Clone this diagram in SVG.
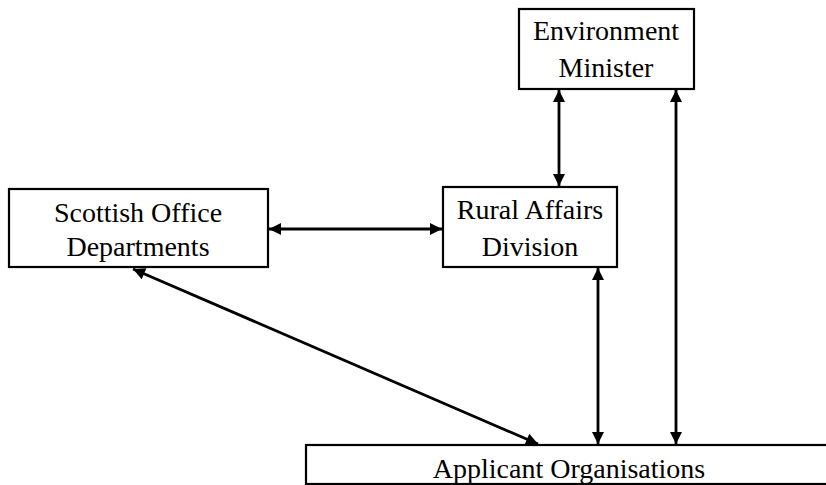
<svg xmlns="http://www.w3.org/2000/svg" width="826" height="485" viewBox="0 0 826 485">
<style>
.box{fill:#fff;stroke:#000;stroke-width:2.2}
.t{font-family:'Liberation Serif','Times New Roman',Times,serif;font-size:28px;fill:#000;text-anchor:middle}
.c{stroke:#000;stroke-width:2.8;fill:none;marker-start:url(#ah);marker-end:url(#ah)}
</style>
<defs>
<marker id="ah" viewBox="0 0 10 10" refX="10" refY="5" markerWidth="13" markerHeight="12" markerUnits="userSpaceOnUse" orient="auto-start-reverse">
<path d="M0,0 L10,5 L0,10 Z" fill="#000"/>
</marker>
</defs>
<rect width="826" height="485" fill="#fff"/>
<g id="env">
<rect class="box" x="519" y="9" width="175" height="80"/>
<text class="t" x="606" y="40">Environment</text>
<text class="t" x="606" y="77">Minister</text>
</g>
<g id="scot">
<rect class="box" x="9" y="189" width="259" height="78"/>
<text class="t" x="138" y="222">Scottish Office</text>
<text class="t" x="138" y="256">Departments</text>
</g>
<g id="rural">
<rect class="box" x="443" y="187" width="174" height="80"/>
<text class="t" x="530" y="219">Rural Affairs</text>
<text class="t" x="530" y="256">Division</text>
</g>
<g id="app">
<rect class="box" x="306" y="445" width="540" height="39"/>
<text class="t" x="569" y="478">Applicant Organisations</text>
</g>
<g id="connectors">
<line class="c" x1="269" y1="229" x2="442" y2="229"/>
<line class="c" x1="559" y1="90" x2="559" y2="186"/>
<line class="c" x1="676" y1="90" x2="676" y2="444"/>
<line class="c" x1="598" y1="268" x2="598" y2="444"/>
<line class="c" x1="133" y1="269" x2="538" y2="444"/>
</g>
</svg>
